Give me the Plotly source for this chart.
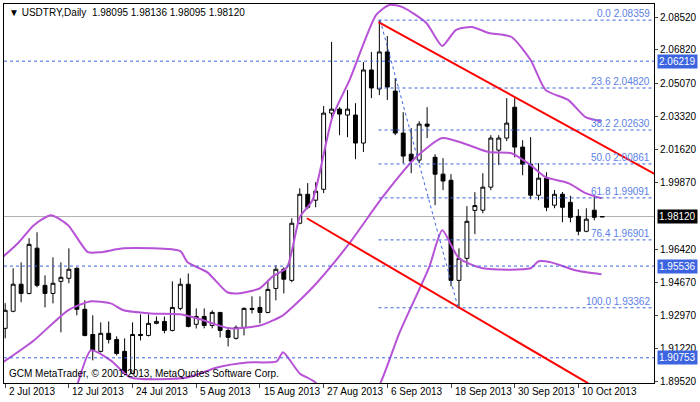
import plotly.graph_objects as go

opens  = [1.9229,1.9318,1.9459,1.9411,1.9647,1.9453,1.9411,1.9474,1.9490,1.9542,1.9328,1.9197,1.9109,1.9203,1.9171,1.9109,1.8994,1.9197,1.9192,1.9255,
          1.9265,1.9218,1.9333,1.9459,1.9250,1.9291,1.9244,1.9312,1.9218,1.9177,1.9234,1.9333,1.9338,1.9312,1.9437,1.9537,1.9479,1.9777,1.9928,1.9897,
          1.9954,2.0351,2.0372,2.0341,2.0341,2.0195,2.0576,2.0477,2.0670,2.0466,2.0247,2.0137,2.0106,2.0294,2.0121,2.0033,2.0001,1.9479,1.9594,1.9844,
          1.9845,1.9965,2.0158,2.0221,2.0382,2.0174,2.0085,1.9923,2.0012,1.9871,1.9928,1.9886,1.9813,1.9735,1.9845,1.98095]
highs  = [1.9360,1.9542,1.9573,1.9699,1.9730,1.9505,1.9599,1.9573,1.9646,1.9547,1.9375,1.9297,1.9260,1.9265,1.9187,1.9177,1.9260,1.9302,1.9302,1.9291,
          1.9291,1.9474,1.9490,1.9515,1.9333,1.9333,1.9323,1.9312,1.9234,1.9244,1.9338,1.9396,1.9396,1.9474,1.9558,1.9547,1.9803,1.9959,1.9986,1.9991,
          2.0388,2.0722,2.0382,2.0471,2.0403,2.0617,2.0670,2.0836,2.0753,2.0534,2.0356,2.0273,2.0309,2.0382,2.0137,2.0116,2.0033,1.9646,1.9866,1.9939,
          2.0038,2.0236,2.0236,2.0429,2.0429,2.0210,2.0226,2.0090,2.0043,1.9950,1.9940,1.9920,1.9850,1.9855,1.9923,1.98136]
lows   = [1.9177,1.9313,1.9365,1.9406,1.9443,1.9338,1.9359,1.9208,1.9464,1.9297,1.9187,1.9062,1.9103,1.9150,1.9088,1.8984,1.8989,1.9166,1.9187,1.9250,
          1.9203,1.9213,1.9323,1.9234,1.9228,1.9229,1.9229,1.9182,1.9135,1.9171,1.9192,1.9307,1.9255,1.9307,1.9375,1.9411,1.9469,1.9772,1.9850,1.9860,
          1.9934,2.0320,2.0236,2.0226,2.0111,2.0148,2.0429,2.0445,2.0419,2.0236,2.0090,2.0038,2.0090,2.0221,1.9871,1.9950,1.9448,1.9336,1.9552,1.9720,
          1.9829,1.9949,2.0080,2.0205,2.0121,2.0027,1.9902,1.9897,1.9840,1.9855,1.9782,1.9782,1.9714,1.9730,1.9792,1.98095]
closes = [1.9323,1.9459,1.9411,1.9667,1.9453,1.9411,1.9464,1.9495,1.9537,1.9328,1.9192,1.9114,1.9203,1.9171,1.9098,1.8994,1.9197,1.9192,1.9255,1.9265,
          1.9218,1.9338,1.9459,1.9239,1.9291,1.9244,1.9312,1.9218,1.9182,1.9234,1.9333,1.9328,1.9312,1.9432,1.9537,1.9485,1.9777,1.9928,1.9860,1.9944,
          2.0351,2.0372,2.0346,2.0372,2.0195,2.0576,2.0482,2.0670,2.0487,2.0247,2.0127,2.0101,2.0294,2.0283,2.0033,1.9997,1.9479,1.9594,1.9787,1.9869,
          1.9965,2.0221,2.0221,2.0299,2.0174,2.0085,1.9923,2.0012,1.9860,1.9928,1.9860,1.9808,1.9735,1.9798,1.9808,1.98120]

up_x = [-0.5,1.6,3.6,5.75,7.9,10.4,12,14.9,22,22.9,25.4,27.9,29.5,32,33.6,35.4,37,38.6,41.1,43.25,46.6,48.25,49.9,52.9,54.9,56.6,58.6,60.75,63.6,66,67.9,70.75,72.9,74.9]
up_y = [1.9594,1.9673,1.9767,1.9819,1.9767,1.9626,1.9626,1.9646,1.9631,1.9573,1.9521,1.9417,1.9412,1.9438,1.9500,1.9547,1.9808,1.9897,2.0330,2.0523,2.0863,2.0915,2.0904,2.0821,2.0701,2.0784,2.0800,2.0769,2.0748,2.0628,2.0471,2.0419,2.0330,2.0309]
mid_x = [-0.5,3.6,7.9,10.75,13.25,14.9,18.25,22,24.5,28.25,32,34.9,37,39.1,43.25,47.4,51.6,54.9,57.9,60.75,63.6,66,67.9,70.75,72.9,74.9]
mid_y = [1.9046,1.9166,1.9323,1.9370,1.9359,1.9323,1.9307,1.9302,1.9276,1.9229,1.9244,1.9297,1.9375,1.9464,1.9673,1.9913,2.0121,2.0221,2.0189,2.0148,2.0142,2.0080,2.0017,1.9986,1.9934,1.9907]
lo_x = [-0.5,4.5,8.25,10.75,13.25,15.75,22.9,26.6,30.4,34.1,34.9,37,39.1,42.6,47,49.5,53.25,54.9,57,60,66,67,68.6,71.6,74.9]
lo_y = [1.8696,1.8723,1.8853,1.9114,1.9062,1.8973,1.8973,1.9025,1.9051,1.9057,1.9104,1.8994,1.8942,1.8644,1.8931,1.9203,1.9547,1.9740,1.9594,1.9542,1.9542,1.9579,1.9573,1.9532,1.9511]

fib_levels = [0.0, 23.6, 38.2, 50.0, 61.8, 76.4, 100.0]
fib_prices = [2.08359, 2.04820, 2.02630, 2.00861, 1.99091, 1.96901, 1.93362]
hlines = [2.06219, 1.95536, 1.90753]
last_price = 1.98120
ytick_vals = [2.08520, 2.06820, 2.05070, 2.03320, 2.01620, 1.99870, 1.96420, 1.94670, 1.92970, 1.91220, 1.89520]
date_idx = [0, 8, 16, 24, 32, 40, 48, 56, 64, 72]
date_labels = ["2 Jul 2013", "12 Jul 2013", "24 Jul 2013", "5 Aug 2013", "15 Aug 2013", "27 Aug 2013",
               "6 Sep 2013", "18 Sep 2013", "30 Sep 2013", "10 Oct 2013"]
red_upper = [(46.9, 2.0826), (81.6, 2.0033)]
red_lower = [(37.9, 1.9803), (73.25, 1.8942)]
fib_diag = [(47.1, 2.0836), (56.9, 1.9336)]

X0, X1 = -0.15, 81.5
Y0, Y1 = 1.8944, 2.0920
BLUE = "#3c64e0"
F = "Liberation Sans"
DASH = "3px,3px"

fig = go.Figure()
for xs, ys in [(up_x, up_y), (mid_x, mid_y), (lo_x, lo_y)]:
    fig.add_trace(go.Scatter(x=xs, y=ys, mode="lines", line=dict(color="#b752d6", width=2, shape="spline", smoothing=0.6),
                             hoverinfo="skip", showlegend=False))
fig.add_trace(go.Candlestick(x=list(range(len(opens))), open=opens, high=highs, low=lows, close=closes,
                             increasing=dict(fillcolor="white", line=dict(color="black", width=1)),
                             decreasing=dict(fillcolor="black", line=dict(color="black", width=1)),
                             whiskerwidth=0, showlegend=False))

shapes = []
shapes.append(dict(type="line", xref="x", yref="y", x0=X0, x1=X1, y0=last_price, y1=last_price, line=dict(color="#b0b0b0", width=1), layer="below"))
for h in hlines:
    shapes.append(dict(type="line", xref="x", yref="y", x0=X0, x1=X1, y0=h, y1=h, line=dict(color=BLUE, width=1, dash=DASH)))
for p in fib_prices:
    shapes.append(dict(type="line", xref="x", yref="y", x0=46.9, x1=X1, y0=p, y1=p, line=dict(color=BLUE, width=1, dash=DASH)))
for seg, w, c, d in [(red_upper, 2, "red", "solid"), (red_lower, 2, "red", "solid"), (fib_diag, 1, BLUE, "dot")]:
    shapes.append(dict(type="line", xref="x", yref="y", x0=seg[0][0], y0=seg[0][1], x1=seg[1][0], y1=seg[1][1], line=dict(color=c, width=w, dash=d)))

ann = []
for lv, p in zip(fib_levels, fib_prices):
    ann.append(dict(x=81.3, y=p, xref="x", yref="y", text=f"{lv:.1f} {p:.5f}", showarrow=False, xanchor="right", yanchor="bottom",
                    font=dict(family=F, size=10, color="#5b7fe8"), yshift=-1))
for h in hlines:
    ann.append(dict(x=1.004, y=h, xref="paper", yref="y", text=f"{h:.5f}", showarrow=False, xanchor="left", bgcolor="#3c64e0",
                    font=dict(family=F, size=10, color="white"), borderpad=1))
ann.append(dict(x=1.004, y=last_price, xref="paper", yref="y", text=f"{last_price:.5f}", showarrow=False, xanchor="left", bgcolor="black",
                font=dict(family=F, size=10, color="white"), borderpad=1))
for i, t in zip(date_idx, date_labels):
    ann.append(dict(x=i + 0.2, y=-0.003, xref="x", yref="paper", text=t, showarrow=False, xanchor="left", yanchor="top",
                    font=dict(family=F, size=10, color="black")))
ann.append(dict(x=0.005, y=0.997, xref="paper", yref="paper", text="▼ USDTRY,Daily  1.98095 1.98136 1.98095 1.98120", showarrow=False,
                xanchor="left", yanchor="top", font=dict(family=F, size=10, color="black")))
ann.append(dict(x=0.005, y=0.005, xref="paper", yref="paper", text="GCM MetaTrader, © 2001-2013, MetaQuotes Software Corp.", showarrow=False,
                xanchor="left", yanchor="bottom", font=dict(family=F, size=10, color="black")))

fig.update_layout(width=700, height=402, margin=dict(l=3, r=44, t=4, b=19), plot_bgcolor="white", paper_bgcolor="white",
                  shapes=shapes, annotations=ann, showlegend=False, hovermode=False,
                  xaxis=dict(range=[X0, X1], rangeslider=dict(visible=False), showgrid=False, zeroline=False, tickvals=date_idx,
                             ticks="outside", ticklen=4, showticklabels=False, showline=True, linecolor="black", mirror=True),
                  yaxis=dict(range=[Y0, Y1], side="right", showgrid=False, zeroline=False, tickvals=ytick_vals,
                             ticktext=[f"{v:.5f}" for v in ytick_vals], ticks="outside", ticklen=3,
                             tickfont=dict(family=F, size=10, color="black"), showline=True, linecolor="black", mirror=True))
fig.write_html("out.html", config={"displayModeBar": False})
with open("out.html", encoding="utf-8") as f:
    html = f.read()
html = html.replace("<head>", "<head><style>html,body{margin:0;padding:0;overflow:hidden;}</style>", 1)
with open("out.html", "w", encoding="utf-8") as f:
    f.write(html)
